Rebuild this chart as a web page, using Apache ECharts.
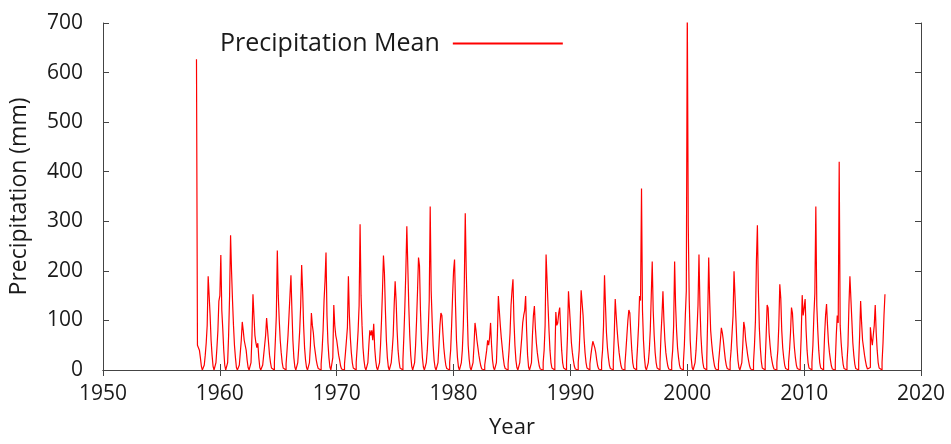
<!DOCTYPE html>
<html>
<head>
<meta charset="utf-8">
<script src="https://cdn.jsdelivr.net/npm/echarts@6/dist/echarts.min.js"></script>
<style>html,body{margin:0;padding:0;background:#fff}#c{width:951px;height:444px}</style>
</head>
<body>
<div id="c"></div>
<script>
// Monthly precipitation (mm), Jan..Dec, per year
const years = [1958,1959,1960,1961,1962,1963,1964,1965,1966,1967,1968,1969,1970,1971,1972,1973,1974,1975,1976,1977,1978,1979,1980,1981,1982,1983,1984,1985,1986,1987,1988,1989,1990,1991,1992,1993,1994,1995,1996,1997,1998,1999,2000,2001,2002,2003,2004,2005,2006,2007,2008,2009,2010,2011,2012,2013,2014,2015,2016];
const monthly = [
[627,50,46,40,25,8,0,0,10,30,55,90],
[189,150,110,60,30,8,0,0,15,45,80,139],
[150,232,120,83,40,10,0,0,15,70,150,272],
[199,140,90,50,25,5,0,0,10,35,60,97],
[80,60,60,40,20,5,0,0,15,70,153,110],
[70,55,45,54,25,5,0,0,10,30,50,70],
[105,80,55,30,15,4,0,0,15,60,110,241],
[150,100,60,35,15,4,0,0,12,40,70,110],
[150,191,120,60,25,6,0,0,15,45,80,130],
[212,160,90,45,20,5,0,0,15,50,115,90],
[75,50,35,20,10,3,0,0,12,40,80,140],
[180,237,110,55,25,6,0,0,25,131,90,70],
[60,45,30,20,8,2,0,0,12,35,60,86],
[189,110,65,35,15,4,0,0,15,45,80,130],
[294,150,90,45,20,5,0,0,15,50,80,70],
[80,60,93,45,20,5,0,0,15,50,100,160],
[231,195,120,60,25,6,0,0,15,40,70,130],
[179,140,80,40,18,4,0,0,20,70,130,200],
[290,210,130,70,30,8,0,0,15,50,100,160],
[227,210,120,60,25,6,0,0,15,40,80,140],
[330,160,100,50,20,5,0,0,15,50,90,115],
[110,75,45,25,10,3,0,0,15,40,90,150],
[200,223,130,60,25,6,0,0,15,40,90,170],
[316,200,120,50,22,5,0,0,15,50,95,80],
[60,45,30,18,8,2,0,0,10,25,40,60],
[50,65,95,50,20,5,0,0,15,70,149,119],
[90,65,45,25,10,3,0,0,12,40,75,130],
[160,183,100,50,20,5,0,0,15,40,65,95],
[110,120,149,80,30,6,0,0,15,70,110,129],
[85,55,35,20,8,2,0,0,15,40,90,233],
[230,130,80,40,15,4,0,0,20,117,90,95],
[115,126,80,40,15,4,0,0,15,70,159,125],
[90,55,35,20,8,2,0,0,15,40,90,161],
[163,110,65,35,15,4,0,0,12,30,45,58],
[60,45,35,20,8,2,0,0,15,40,90,191],
[130,75,45,25,10,3,0,0,15,70,143,110],
[80,55,35,20,8,2,0,0,12,40,70,100],
[121,115,75,40,15,4,0,0,15,50,90,149],
[140,366,120,60,25,5,0,0,15,40,80,150],
[219,120,70,35,15,4,0,0,15,70,110,159],
[100,60,35,20,8,2,0,0,15,40,90,219],
[130,80,45,25,10,3,0,0,15,50,110,160],
[730,292,140,60,25,5,0,0,15,40,80,130],
[233,130,70,35,15,4,0,0,20,110,227,140],
[80,55,35,20,8,2,0,0,12,35,60,85],
[75,60,40,22,10,3,0,0,15,40,75,110],
[199,195,100,50,20,5,0,0,15,50,97,85],
[60,45,30,18,8,2,0,0,15,50,100,220],
[292,160,85,45,18,4,0,0,15,70,131,125],
[75,50,30,18,8,2,0,0,15,40,90,173],
[145,80,45,25,10,3,0,0,15,40,75,126],
[115,75,45,25,10,3,0,0,15,70,151,110],
[125,143,80,40,15,4,0,0,15,50,110,155],
[330,130,80,40,15,4,0,0,15,70,110,133],
[90,55,35,20,8,2,0,0,15,70,110,95],
[420,90,55,30,12,3,0,0,15,50,130,189],
[185,100,55,30,12,3,0,0,15,70,139,95],
[60,45,30,18,8,2,0,5,86,65,50,70],
[90,131,75,40,15,4,0,0,15,55,110,153]
];
const xTicks = [1950,1960,1970,1980,1990,2000,2010,2020];
const yTicks = [0,100,200,300,400,500,600,700];
const seriesName = 'Precipitation Mean';

const points = [];
years.forEach((y, i) => monthly[i].forEach((v, m) => points.push([y + m / 12, v])));

const lab = '"Open Sans", sans-serif';
const txt = '#1a1a1a';
const axisLine = {show: true, lineStyle: {color: '#444', width: 1}};
const tick = {show: true, inside: true, length: 6, lineStyle: {color: '#444'}};

const chart = echarts.init(document.getElementById('c'));
chart.setOption({
  animation: false,
  backgroundColor: '#fff',
  grid: {left: 103, right: 30, top: 23, bottom: 69},
  legend: {
    show: true, left: 215, top: 26, align: 'right', icon: 'rect',
    itemWidth: 110, itemHeight: 2,
    textStyle: {fontFamily: lab, fontSize: 25, color: txt, padding: [0, 8, 0, 0]},
    data: [seriesName]
  },
  xAxis: [{
    type: 'value', min: xTicks[0], max: xTicks[xTicks.length - 1], interval: 10,
    name: 'Year', nameLocation: 'middle', nameGap: 47,
    nameTextStyle: {fontFamily: lab, fontSize: 22, color: txt},
    axisLine: axisLine, axisTick: tick, splitLine: {show: false},
    axisLabel: {fontFamily: lab, fontSize: 21, color: txt, margin: 14, formatter: v => String(v)}
  }, {
    type: 'value', position: 'top', min: xTicks[0], max: xTicks[xTicks.length - 1], interval: 10,
    axisLine: axisLine, axisTick: tick, axisLabel: {show: false}, splitLine: {show: false}
  }],
  yAxis: [{
    type: 'value', min: yTicks[0], max: yTicks[yTicks.length - 1], interval: 100,
    name: 'Precipitation (mm)', nameLocation: 'middle', nameGap: 72,
    nameTextStyle: {fontFamily: lab, fontSize: 23, color: txt},
    axisLine: axisLine, axisTick: tick, splitLine: {show: false},
    axisLabel: {fontFamily: lab, fontSize: 21, color: txt, margin: 20, formatter: v => String(v)}
  }, {
    type: 'value', position: 'right', min: yTicks[0], max: yTicks[yTicks.length - 1], interval: 100,
    axisLine: axisLine, axisTick: tick, axisLabel: {show: false}, splitLine: {show: false}
  }],
  series: [{
    name: seriesName, type: 'line', step: 'end', data: points,
    xAxisIndex: 0, yAxisIndex: 0, showSymbol: false, symbol: 'none', clip: true,
    lineStyle: {color: '#ff0000', width: 1.2}, itemStyle: {color: '#ff0000'}
  }]
});
</script>
</body>
</html>
